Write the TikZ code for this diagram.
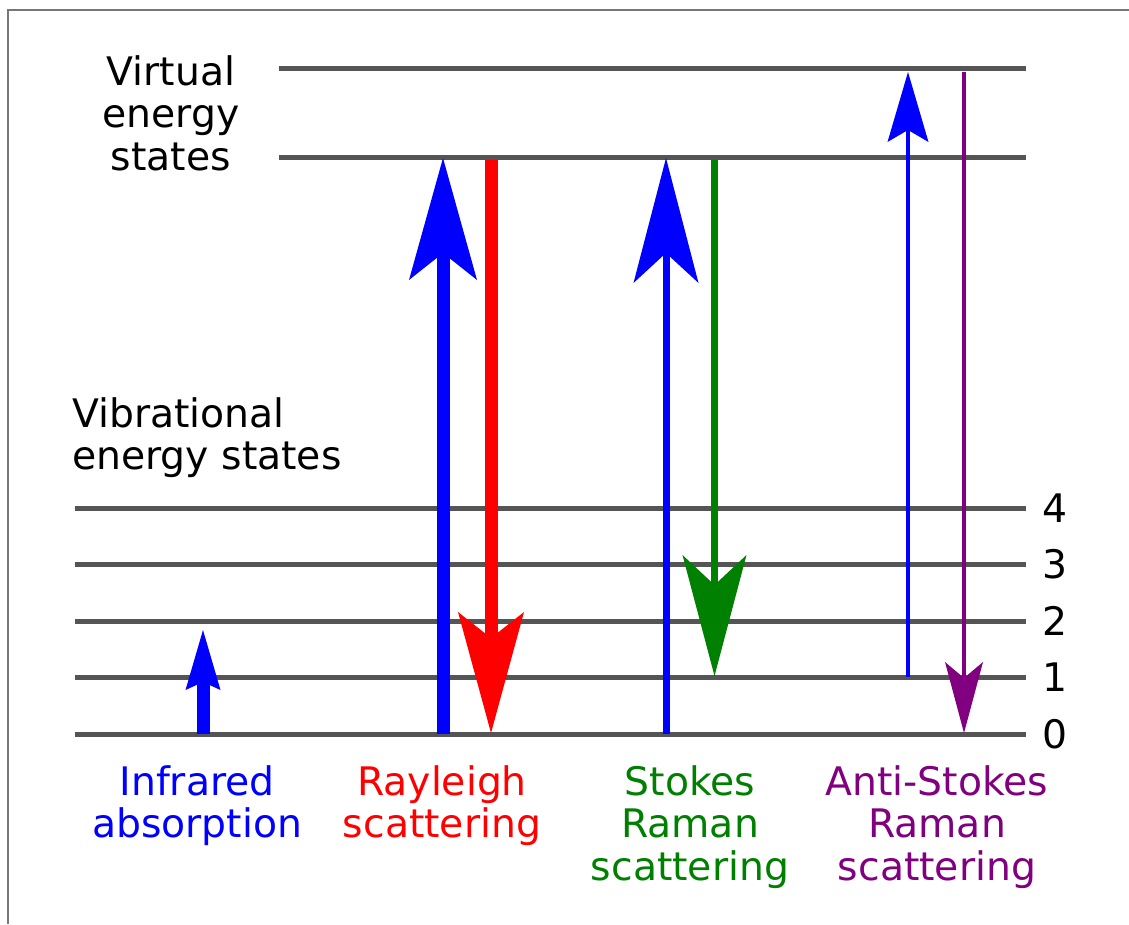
\documentclass[tikz,border=0pt]{standalone}
\usepackage{fontspec}
\setmainfont{DejaVu Sans}
\usetikzlibrary{arrows.meta}
\definecolor{levelgray}{HTML}{555555}
\definecolor{framegray}{HTML}{777777}
\definecolor{irblue}{HTML}{0000FF}
\definecolor{raylred}{HTML}{FF0000}
\definecolor{stokesgreen}{HTML}{008000}
\definecolor{antipurple}{HTML}{800080}
\begin{document}
\begin{tikzpicture}[x=1pt,y=-1pt,
  level/.style={levelgray,line width=5pt},
  lbl/.style={font=\fontsize{39.3}{42.5}\selectfont, inner sep=0pt, align=center, anchor=north},
  num/.style={font=\fontsize{39.3}{42.5}\selectfont, inner sep=0pt, anchor=center},
  trans/.style n args={4}{-{Stealth[length=#1pt,width=#2pt,inset=#3pt,line width=0pt]}, line width=#4pt}]
\useasboundingbox (0,0) rectangle (1129,924);
\fill[white] (0,0) rectangle (1129,924);
% frame on the top and left edges
\draw[framegray, line width=2pt] (8,924) -- (8,10) -- (1129,10);

% virtual energy levels
\draw[level] (279,68) -- (1026,68);
\draw[level] (279,157) -- (1026,157);
% vibrational energy levels 0..4
\foreach \y in {508,564,621,677,734} \draw[level] (75,\y) -- (1026,\y);

% level numbers
\node[num] (n4) at (1055,508) {4};
\node[num] (n3) at (1055,564) {3};
\node[num] (n2) at (1055,621) {2};
\node[num] (n1) at (1055,677) {1};
\node[num] (n0) at (1055,734) {0};

% end points of the transitions
\coordinate (ir0) at (203,734);   \coordinate (ir1) at (203,630);
\coordinate (ru0) at (443,734);   \coordinate (ru1) at (443,158);
\coordinate (rd0) at (491,160);   \coordinate (rd1) at (491,733);
\coordinate (su0) at (666,734);   \coordinate (su1) at (666,158);
\coordinate (sd0) at (714.5,160); \coordinate (sd1) at (714.5,676);
\coordinate (au0) at (908,677);   \coordinate (au1) at (908,72);
\coordinate (ad0) at (964,72);    \coordinate (ad1) at (964,733);

% transitions
\draw[irblue, trans={60}{35}{8}{13}] (ir0) -- (ir1);
\draw[irblue, trans={122}{68}{27}{13}] (ru0) -- (ru1);
\draw[raylred, trans={121}{66}{26}{13}] (rd0) -- (rd1);
\draw[irblue, trans={125}{65}{30}{7}] (su0) -- (su1);
\draw[stokesgreen, trans={121}{64}{30}{7}] (sd0) -- (sd1);
\draw[irblue, trans={70}{41}{12}{4}] (au0) -- (au1);
\draw[antipurple, trans={71}{38}{16}{4}] (ad0) -- (ad1);

% headings
\node[lbl] (virt) at (171,55) {Virtual\\energy\\states};
\node[lbl, align=left, anchor=north west] (vib) at (72,397) {Vibrational\\energy states};

% process names
\node[lbl, text=irblue] (irl) at (197,765) {Infrared\\absorption};
\node[lbl, text=raylred] (rayl) at (442,765) {Rayleigh\\scattering};
\node[lbl, text=stokesgreen] (stl) at (690,765) {Stokes\\Raman\\scattering};
\node[lbl, text=antipurple] (asl) at (937,765) {Anti-Stokes\\Raman\\scattering};
\end{tikzpicture}
\end{document}
